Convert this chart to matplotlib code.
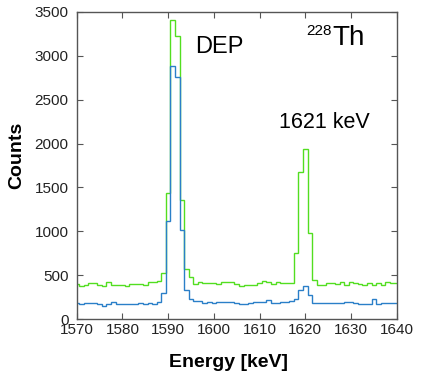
import matplotlib.pyplot as plt
import numpy as np

# bin centres (1 keV bins) and counts
energy = np.arange(1570, 1641)
counts_green = [400, 383, 390, 409, 409, 395, 383, 424, 388, 395,
                390, 378, 400, 400, 402, 385, 420, 425, 430, 523,
                1440, 3400, 3220, 1355, 570, 485, 402, 428, 409, 409,
                409, 402, 424, 424, 424, 402, 383, 385, 385, 385,
                409, 440, 420, 402, 420, 409, 409, 409, 755, 1676,
                1935, 978, 450, 388, 395, 417, 417, 402, 424, 392,
                424, 409, 398, 385, 409, 392, 417, 392, 424, 409,
                409]
counts_blue = [189, 170, 182, 189, 189, 175, 155, 170, 201, 170,
               170, 170, 170, 175, 182, 170, 182, 170, 201, 296,
               1118, 2882, 2753, 1016, 333, 227, 212, 205, 189, 195,
               189, 201, 201, 201, 201, 189, 175, 175, 182, 201,
               201, 201, 220, 182, 189, 195, 201, 212, 231, 333,
               382, 276, 182, 182, 189, 182, 182, 182, 182, 195,
               201, 182, 175, 170, 170, 227, 175, 182, 189, 189,
               189]

plt.rcParams['font.family'] = ['Liberation Sans', 'DejaVu Sans']

fig = plt.figure(figsize=(4.22, 3.74), dpi=100)
ax = fig.add_axes([0.1818, 0.1463, 0.7583, 0.8225])

edges = np.append(energy - 0.5, energy[-1] + 0.5)
ax.stairs(counts_green, edges, color='#52de20', linewidth=1.0, baseline=None)
ax.stairs(counts_blue, edges, color='#2a7fc8', linewidth=1.0, baseline=None)

ax.set_xlim(1570, 1640)
ax.set_ylim(0, 3500)
ax.set_xticks(range(1570, 1641, 10))
ax.set_yticks(range(0, 3501, 500))

for s in ax.spines.values():
    s.set_color('#555555')
    s.set_linewidth(1.0)
ax.tick_params(direction='in', top=True, right=True, length=4, width=0.8,
               color='#555555', labelsize=11, labelcolor='#222222')
ax.tick_params(axis='x', pad=3)
ax.tick_params(axis='y', pad=6)

ax.set_xlabel('Energy [keV]', fontsize=14, fontweight='bold')
ax.set_ylabel('Counts', fontsize=14, fontweight='bold')
ax.xaxis.set_label_coords(0.473, -0.139)
ax.yaxis.set_label_coords(-0.187, 0.534)
ax.xaxis.label.set_va('center')
ax.yaxis.label.set_va('center')

ax.text(0.370, 0.866, 'DEP', transform=ax.transAxes, fontsize=17, va='baseline')
ax.text(0.632, 0.622, '1621 keV', transform=ax.transAxes, fontsize=15.5, va='baseline')
ax.text(0.716, 0.924, '228', transform=ax.transAxes, fontsize=11, va='baseline')
ax.text(0.798, 0.892, 'Th', transform=ax.transAxes, fontsize=20, va='baseline')

fig.savefig('out.png', dpi=100)
